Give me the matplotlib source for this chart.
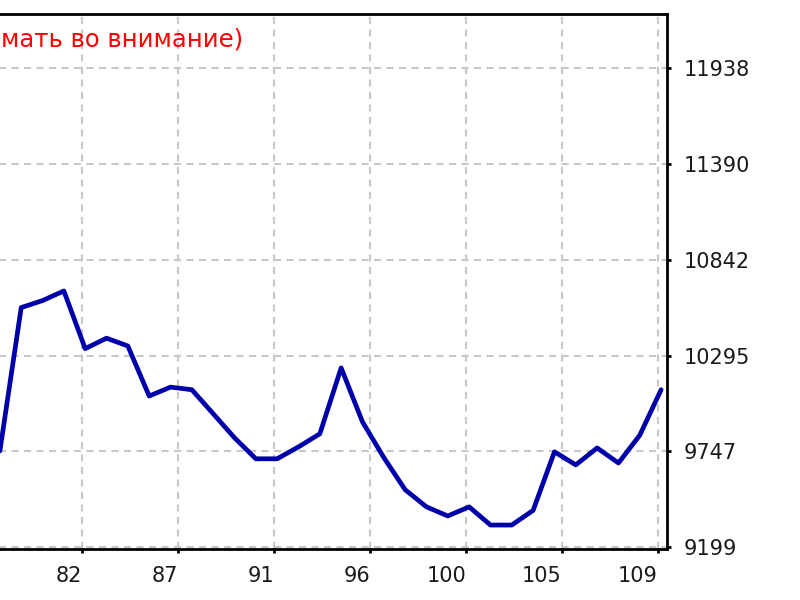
import matplotlib
matplotlib.use("Agg")
import matplotlib.pyplot as plt
import numpy as np

# ---- data ----
trades = list(range(78, 110))
balance = [9750, 10570, 10610, 10665, 10335, 10395, 10350, 10064, 10115, 10100,
           9963, 9825, 9705, 9705, 9773, 9848, 10225, 9916, 9712, 9528,
           9430, 9378, 9430, 9326, 9326, 9410, 9745, 9670, 9767, 9681,
           9840, 10100]
x_tick_labels = ["82", "87", "91", "96", "100", "105", "109"]
y_ticks = [9199, 9747, 10295, 10842, 11390, 11938]
note_text = "мать во внимание)"

# ---- layout ----
W, H = 800, 600
fig = plt.figure(figsize=(8, 6), dpi=100)
fig.patch.set_facecolor("white")

px_per_trade = 21.33
x0_trade = 81.85  # trade value at pixel 82
left_px = -40
right_px = 667
top_px = 13.5
bottom_px = 549

ax = fig.add_axes([left_px / W, 1 - bottom_px / H,
                   (right_px - left_px) / W, (bottom_px - top_px) / H])

xlim_left = x0_trade + (left_px - 82) / px_per_trade
xlim_right = x0_trade + (right_px - 82) / px_per_trade
ax.set_xlim(xlim_left, xlim_right)
ax.set_ylim(9189, 12252)

ax.plot(trades, balance, color="#0000AA", lw=3.4, solid_joinstyle="round",
        solid_capstyle="round", zorder=3)

tick_pos = [x0_trade + 4.5 * i for i in range(len(x_tick_labels))]
ax.set_xticks(tick_pos)
ax.set_xticklabels(x_tick_labels, ha="right")
ax.set_yticks(y_ticks)
ax.set_yticklabels([str(v) for v in y_ticks])

ax.yaxis.tick_right()
ax.tick_params(axis="both", direction="out", length=3, width=2, color="black",
               labelsize=15, labelcolor="#1a1a1a")
ax.tick_params(axis="y", pad=9)
ax.tick_params(axis="x", pad=9)
for lab in ax.get_xticklabels():
    lab.set_horizontalalignment("right")
for lab in ax.get_yticklabels():
    lab.set_verticalalignment("center_baseline")

ax.grid(True, color="#C8C8C8", lw=1.5, linestyle=(0, (3.4, 2.6)), zorder=1)

for s in ["top", "right", "bottom"]:
    ax.spines[s].set_linewidth(2)
    ax.spines[s].set_color("black")
ax.spines["left"].set_visible(False)

fig.text(0.001, 1 - 40 / H, note_text, color="#FF0000", fontsize=17.5,
         va="center", ha="left")

fig.savefig("out.png", dpi=100, facecolor="white")
